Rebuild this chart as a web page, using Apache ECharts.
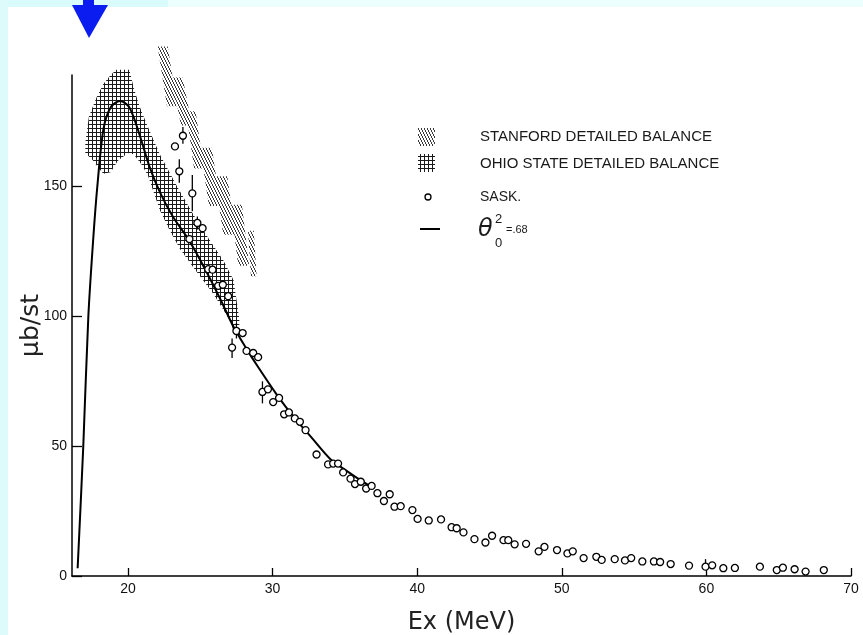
<!DOCTYPE html>
<html><head><meta charset="utf-8">
<script src="https://cdn.jsdelivr.net/npm/echarts@6/dist/echarts.min.js"></script>
<style>html,body{margin:0;padding:0;background:#fff}#c{width:863px;height:635px}</style>
</head><body><div id="c"></div>
<script>
// ---------- data ----------
const xTicks = [20, 30, 40, 50, 60, 70];
const yTicks = [0, 50, 100, 150];

// theta_0^2 = .68 curve
const thetaX = [16.52, 16.91, 17.26, 17.6, 17.88, 18.3, 18.8, 19.45, 20.1, 20.8, 21.5, 22.2, 23.1, 24.2, 25.4, 26.4, 27.3, 28.2, 29.0, 30.3, 31.5, 32.7, 34.0, 35.0, 36.0, 37.0];
const thetaY = [3, 50, 100, 130, 150, 172, 180.5, 183, 180.5, 170, 157.5, 148, 138.5, 129.5, 117.5, 106.5, 96, 87.5, 80.5, 69.8, 61, 53.3, 45, 41, 37.2, 33.7];

// SASK data points
const saskX = [23.25, 23.8, 23.55, 24.45, 24.8, 25.16, 24.25, 25.55, 25.85, 26.24, 26.56, 26.93, 27.5, 27.93, 27.2, 28.2, 28.66, 29.0, 29.3, 29.68, 30.04, 30.45, 30.8, 31.13, 31.54, 31.89, 32.28, 33.04, 33.84, 34.19, 34.53, 34.88, 35.39, 35.7, 36.1, 36.47, 36.85, 37.25, 37.7, 38.1, 38.43, 38.86, 39.67, 40.03, 40.8, 41.65, 42.38, 42.73, 43.2, 43.96, 44.72, 45.18, 45.97, 46.3, 46.74, 47.53, 48.4, 48.8, 49.67, 50.39, 50.76, 51.51, 52.39, 52.76, 53.66, 54.37, 54.8, 55.57, 56.37, 56.8, 57.53, 58.8, 59.94, 60.4, 61.17, 61.97, 63.7, 64.87, 65.29, 66.1, 66.86, 68.12];
const saskY = [165.5, 169.6, 155.9, 147.4, 136, 134, 129.8, 118.2, 118, 111.8, 112.2, 107.8, 94.4, 93.6, 88, 86.7, 85.9, 84.3, 70.9, 71.9, 67, 68.6, 62.3, 63, 60.7, 59.4, 56.2, 46.8, 43, 43.3, 43.3, 39.9, 37.5, 35.4, 36.3, 33.7, 34.7, 31.9, 28.9, 31.5, 26.7, 26.9, 25.4, 22, 21.4, 21.8, 18.8, 18.4, 16.8, 14.2, 12.9, 15.5, 13.8, 13.8, 12.2, 12.4, 9.5, 11.2, 10, 8.7, 9.5, 6.9, 7.4, 6.2, 6.5, 6, 6.9, 5.6, 5.6, 5.4, 4.6, 4, 3.6, 4.1, 3, 3.1, 3.6, 2.3, 3.2, 2.6, 1.7, 2.3];

// error bars on SASK points
const errX  = [23.8, 23.55, 24.45, 24.8, 27.2, 27.5, 29.3, 59.94];
const errLo = [166.5, 151.5, 140.5, 133.5, 84, 91.5, 66.5, 2.3];
const errHi = [173, 160.5, 154.5, 138.5, 91.5, 97.5, 75, 6.5];

// Ohio State detailed balance band
const ohioUpperX = [17.05, 17.3, 17.8, 18.3, 18.8, 19.2, 20.1, 20.4, 20.8, 21.3, 22.2, 23.4, 24.5, 25.7, 26.6, 27.3, 27.7];
const ohioUpperY = [167, 177, 184, 189.5, 193, 195, 195, 188, 181, 174, 162.5, 150, 139.5, 129, 121.5, 114, 99];
const ohioLowerX = [17.05, 17.6, 18.0, 18.3, 18.8, 19.3, 20.0, 20.4, 21.0, 21.4, 22.2, 22.9, 23.6, 24.5, 25.9, 27.05, 27.35, 27.7];
const ohioLowerY = [163, 160, 157, 155, 155.5, 160, 163, 162.5, 158, 154, 141, 133, 126, 119, 108.7, 98.5, 93.5, 93];

// Stanford detailed balance strips (top centre, bottom centre, half width in MeV)
const stanTopX = [22.4, 23.4, 24.35, 25.4, 26.45, 27.5, 28.5];
const stanTopY = [204, 192, 179, 165, 154, 143, 133];
const stanBotX = [23.05, 24.05, 24.9, 26.0, 27.0, 28.0, 28.7];
const stanBotY = [181, 173.5, 157, 142.5, 131.5, 119.5, 115.5];
const stanHalfW = [0.35, 0.38, 0.33, 0.4, 0.42, 0.38, 0.2];

const legendNames = ['STANFORD DETAILED BALANCE', 'OHIO STATE DETAILED BALANCE', 'SASK.'];

// ---------- patterns ----------
function makePattern(w, h, draw) {
  const c = document.createElement('canvas');
  c.width = w; c.height = h;
  draw(c.getContext('2d'));
  return { image: c, repeat: 'repeat' };
}
const crossPat = makePattern(4, 4, g => {
  g.fillStyle = '#ffffff'; g.fillRect(0, 0, 4, 4);
  g.fillStyle = '#1a1a1a'; g.fillRect(0, 0, 4, 1); g.fillRect(0, 0, 1, 4);
});
const hatchPat = makePattern(3, 6, g => {
  g.clearRect(0, 0, 3, 6);
  g.fillStyle = '#3a3a3a';
  g.fillRect(0, 0, 1, 2); g.fillRect(1, 2, 1, 2); g.fillRect(2, 4, 1, 2);
});

const ohioPoly = ohioUpperX.map((x, i) => [x, ohioUpperY[i]])
  .concat(ohioLowerX.map((x, i) => [x, ohioLowerY[i]]).reverse());

const chart = echarts.init(document.getElementById('c'), null, { renderer: 'canvas' });
const fontMain = '"Liberation Sans", "DejaVu Sans", sans-serif';

chart.setOption({
  backgroundColor: '#ffffff',
  animation: false,
  grid: { left: 72, right: 12, top: 75, bottom: 59, containLabel: false, outerBoundsMode: 'none' },
  xAxis: {
    type: 'value', min: 16.13, max: 70,
    name: 'Ex (MeV)', nameLocation: 'middle', nameGap: 35, nameMoveOverlap: false,
    nameTextStyle: { fontSize: 24, color: '#222', fontFamily: '"DejaVu Sans", sans-serif' },
    axisLine: { lineStyle: { color: '#000', width: 1.5 } },
    axisTick: { inside: true, length: 8, customValues: xTicks, lineStyle: { color: '#000', width: 1.3 } },
    axisLabel: { customValues: xTicks, fontSize: 14, color: '#111', margin: 6, fontFamily: fontMain },
    splitLine: { show: false }
  },
  yAxis: {
    type: 'value', min: 0, max: 193,
    name: 'μb/st', nameLocation: 'middle', nameGap: 28, nameMoveOverlap: false,
    nameTextStyle: { fontSize: 25, color: '#222', fontFamily: '"DejaVu Sans", sans-serif' },
    axisLine: { show: true, lineStyle: { color: '#000', width: 1.5 } },
    axisTick: { show: true, inside: true, length: 10, customValues: yTicks, lineStyle: { color: '#000', width: 1.3 } },
    axisLabel: { customValues: yTicks, fontSize: 14, color: '#111', margin: 5, fontFamily: fontMain },
    splitLine: { show: false }
  },
  series: [
    {
      name: legendNames[0], type: 'custom', z: 1, silent: true,
      data: stanTopX.map((x, i) => [x, stanTopY[i], stanBotX[i], stanBotY[i], stanHalfW[i]]),
      encode: { x: [0, 2], y: [1, 3] },
      renderItem: (params, api) => {
        const tx = api.value(0), ty = api.value(1), bx = api.value(2), by = api.value(3), hw = api.value(4);
        const pts = [api.coord([tx - hw, ty]), api.coord([tx + hw, ty]), api.coord([bx + hw, by]), api.coord([bx - hw, by])];
        return { type: 'polygon', shape: { points: pts }, style: { fill: hatchPat, stroke: null } };
      }
    },
    {
      name: legendNames[1], type: 'custom', z: 2, silent: true,
      data: ohioPoly, encode: { x: 0, y: 1 },
      renderItem: (params, api) => {
        if (params.dataIndex !== 0) return null;
        const pts = ohioPoly.map(p => api.coord(p));
        return { type: 'polygon', shape: { points: pts }, style: { fill: crossPat, stroke: null } };
      }
    },
    {
      name: 'theta', type: 'line', z: 3, silent: true,
      data: thetaX.map((x, i) => [x, thetaY[i]]),
      smooth: 0.3, symbol: 'none',
      lineStyle: { color: '#000', width: 2 }
    },
    {
      name: 'err', type: 'custom', z: 4, silent: true,
      data: errX.map((x, i) => [x, errLo[i], errHi[i]]),
      encode: { x: 0, y: [1, 2] },
      renderItem: (params, api) => {
        const a = api.coord([api.value(0), api.value(1)]);
        const b = api.coord([api.value(0), api.value(2)]);
        return { type: 'line', shape: { x1: a[0], y1: a[1], x2: b[0], y2: b[1] }, style: { stroke: '#000', lineWidth: 1.3 } };
      }
    },
    {
      name: legendNames[2], type: 'scatter', z: 5, silent: true,
      data: saskX.map((x, i) => [x, saskY[i]]),
      symbol: 'circle', symbolSize: 7,
      itemStyle: { color: '#fff', borderColor: '#000', borderWidth: 1.3, opacity: 1 }
    }
  ],
  graphic: [
    // scan border strips and marker arrow
    { type: 'rect', shape: { x: 0, y: 0, width: 168, height: 7 }, style: { fill: '#d9fbfb' }, z: 100 },
    { type: 'rect', shape: { x: 168, y: 0, width: 695, height: 7 }, style: { fill: '#ecfefe' }, z: 100 },
    { type: 'rect', shape: { x: 0, y: 0, width: 8, height: 635 }, style: { fill: '#ddfbfb' }, z: 100 },
    { type: 'rect', shape: { x: 83, y: 0, width: 11, height: 6 }, style: { fill: '#0a1cf0' }, z: 101 },
    { type: 'polygon', shape: { points: [[72, 5], [108, 5], [89, 38]] }, style: { fill: '#0a1cf0' }, z: 101 },
    // legend
    { type: 'rect', shape: { x: 418, y: 128, width: 17, height: 18 }, style: { fill: hatchPat }, z: 50 },
    { type: 'text', x: 480, y: 137, style: { text: legendNames[0], font: '15px "Liberation Sans", sans-serif', fill: '#1a1a1a', textVerticalAlign: 'middle' }, z: 50 },
    { type: 'rect', shape: { x: 418, y: 154, width: 17, height: 18 }, style: { fill: crossPat }, z: 50 },
    { type: 'text', x: 480, y: 164, style: { text: legendNames[1], font: '15px "Liberation Sans", sans-serif', fill: '#1a1a1a', textVerticalAlign: 'middle' }, z: 50 },
    { type: 'circle', shape: { cx: 428, cy: 197, r: 3 }, style: { fill: '#fff', stroke: '#000', lineWidth: 1.3 }, z: 50 },
    { type: 'text', x: 480, y: 197, style: { text: legendNames[2], font: '14px "Liberation Sans", sans-serif', fill: '#1a1a1a', textVerticalAlign: 'middle' }, z: 50 },
    { type: 'line', shape: { x1: 420, y1: 229, x2: 440, y2: 229 }, style: { stroke: '#000', lineWidth: 2 }, z: 50 },
    { type: 'text', x: 478, y: 230, style: { text: 'θ', font: 'italic 24px "DejaVu Sans", sans-serif', fill: '#1a1a1a', textVerticalAlign: 'middle' }, z: 50 },
    { type: 'text', x: 495, y: 219, style: { text: '2', font: '13px "Liberation Sans", sans-serif', fill: '#1a1a1a', textVerticalAlign: 'middle' }, z: 50 },
    { type: 'text', x: 495, y: 243, style: { text: '0', font: '13px "Liberation Sans", sans-serif', fill: '#1a1a1a', textVerticalAlign: 'middle' }, z: 50 },
    { type: 'text', x: 506, y: 230, style: { text: '=.68', font: '11px "Liberation Sans", sans-serif', fill: '#1a1a1a', textVerticalAlign: 'middle' }, z: 50 }
  ]
});
</script></body></html>
